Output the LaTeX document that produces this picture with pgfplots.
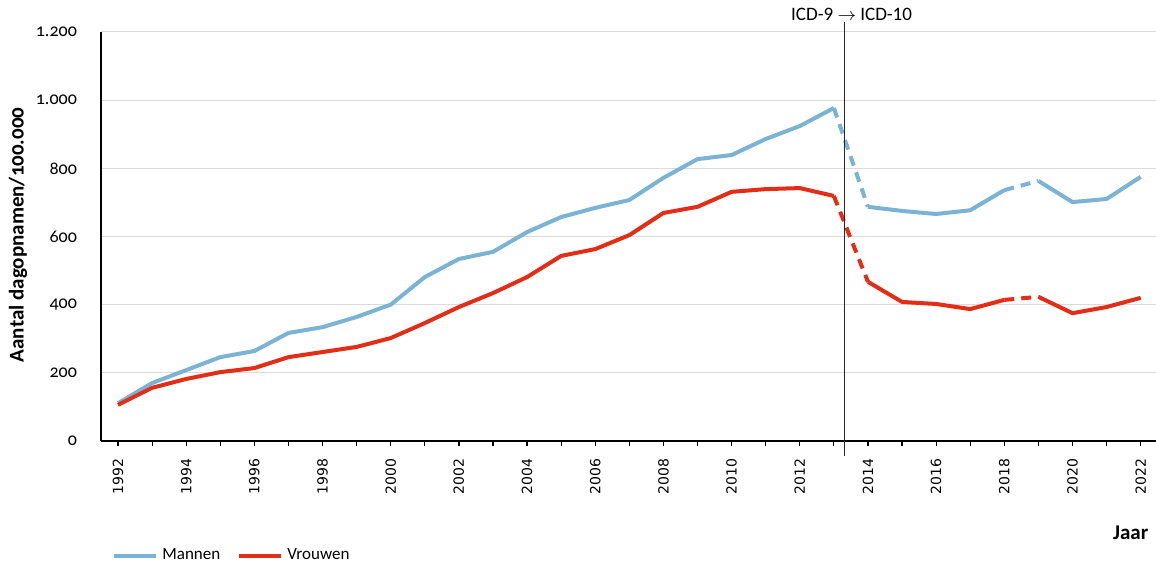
\documentclass[border=0pt]{standalone}
\usepackage{pgfplots}
\pgfplotsset{compat=1.18}
\usepackage{fontspec}
\setmainfont{Carlito}
\newfontfamily\xfont{DejaVu Sans}
\newfontfamily\yfont[Numbers=OldStyle]{Carlito}
\definecolor{mblue}{RGB}{122,179,212}
\definecolor{vred}{RGB}{226,46,22}
\begin{document}
\begin{tikzpicture}
\begin{axis}[
  scale only axis, width=527.5pt, height=204.5pt,
  xmin=1991.5, xmax=2022.45, ymin=0, ymax=1200,
  axis x line*=bottom, axis y line*=left,
  axis line style={-, line width=0.7pt},
  clip=false,
  xtick={1992,1994,...,2022},
  xticklabels={1992,1994,1996,1998,2000,2002,2004,2006,2008,2010,2012,2014,2016,2018,2020,2022},
  minor xtick={1993,1995,...,2021},
  tick align=outside,
  major tick length=2.5pt, minor tick length=2.5pt,
  xtick style={black, line width=0.6pt},
  ytick={0,200,...,1200},
  ytick style={draw=none},
  ymajorgrids, grid style={black!14, line width=0.5pt},
  /pgf/number format/.cd, 1000 sep={.}, assume math mode=true, /pgfplots/.cd,
  yticklabel style={font=\yfont\fontsize{9}{10}\selectfont, xshift=-6pt},
  xticklabel shift=3pt,
  xticklabel style={rotate=90, anchor=east, font=\xfont\fontsize{7}{8}\selectfont},
  legend style={draw=none, at={(axis description cs:0.0047,-0.281)}, anchor=west,
    font=\fontsize{8.5}{10}\selectfont, fill=none,
    /tikz/every even column/.append style={column sep=6.5pt}},
  legend columns=2,
  legend image code/.code={\draw[#1] (0pt,0pt) -- (21pt,0pt);},
]
% Mannen
\addplot[mblue, line width=2pt, line join=round] table {
1992 111
1993 170
1994 208
1995 246
1996 264
1997 317
1998 334
1999 364
2000 400
2001 481
2002 534
2003 555
2004 613
2005 657
2006 684
2007 707
2008 772
2009 827
2010 839
2011 886
2012 924
2013 977
};
\addlegendentry{Mannen}
\addplot[mblue, line width=2pt, dash pattern=on 5pt off 3.5pt, forget plot] table {
2013 977
2014 687
};
\addplot[mblue, line width=2pt, line join=round, forget plot] table {
2014 687
2015 675
2016 666
2017 677
2018 736
};
\addplot[mblue, line width=2pt, dash pattern=on 5pt off 3.5pt, forget plot] table {
2018 736
2019 763
};
\addplot[mblue, line width=2pt, line join=round, forget plot] table {
2019 763
2020 701
2021 710
2022 775
};
% Vrouwen
\addplot[vred, line width=2pt, line join=round] table {
1992 106
1993 156
1994 182
1995 202
1996 214
1997 246
1998 261
1999 276
2000 302
2001 346
2002 393
2003 434
2004 481
2005 543
2006 563
2007 604
2008 669
2009 687
2010 731
2011 739
2012 742
2013 719
};
\addlegendentry{Vrouwen}
\addplot[vred, line width=2pt, dash pattern=on 5pt off 3.5pt, forget plot] table {
2013 719
2014 467
};
\addplot[vred, line width=2pt, line join=round, forget plot] table {
2014 467
2015 408
2016 402
2017 387
2018 414
};
\addplot[vred, line width=2pt, dash pattern=on 5pt off 3.5pt, forget plot] table {
2018 414
2019 423
};
\addplot[vred, line width=2pt, line join=round, forget plot] table {
2019 423
2020 375
2021 393
2022 420
};
\draw[black!85, line width=0.5pt] (axis cs:2013.3,-44) -- (axis cs:2013.3,1229);
\node[anchor=base, font=\fontsize{9.5}{11}\selectfont, inner sep=0pt] at (axis cs:2013.52,1235) {ICD-9 $\to$ ICD-10};
\node[font=\yfont\bfseries\fontsize{10.5}{12}\selectfont, rotate=90] at (axis description cs:-0.0787,0.504) {Aantal dagopnamen/100.000};
\node[font=\bfseries\fontsize{10.5}{12}\selectfont] at (axis description cs:0.976,-0.225) {Jaar};
\coordinate (bbsw) at (axis description cs:-0.0957,-0.3056);
\coordinate (bbne) at (axis description cs:1.0,1.0782);
\end{axis}
\pgfresetboundingbox
\path[use as bounding box] (bbsw) rectangle (bbne);
\end{tikzpicture}
\end{document}
